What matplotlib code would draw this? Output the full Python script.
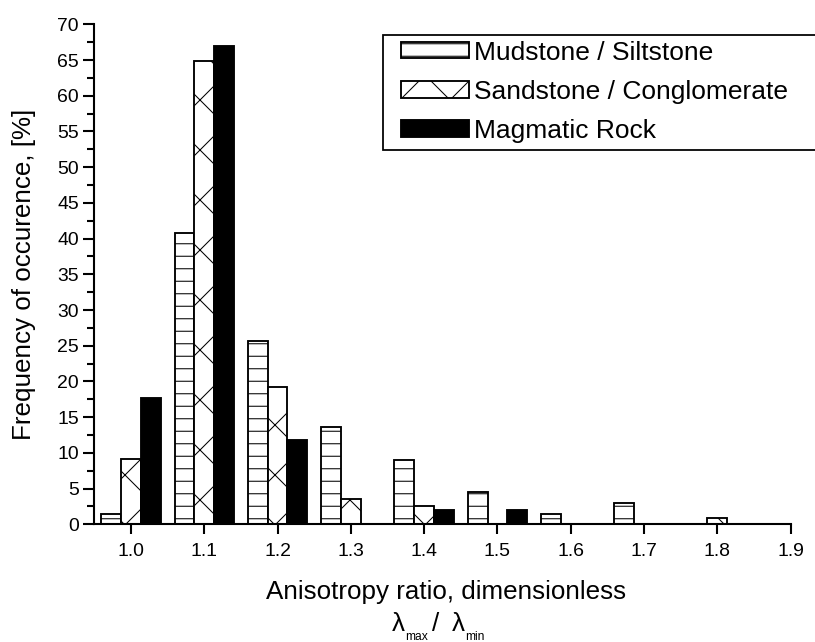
import matplotlib
matplotlib.use('Agg')
import numpy as np
import matplotlib.pyplot as plt
from matplotlib.patches import Rectangle
from matplotlib.ticker import MultipleLocator

# histogram of anisotropy ratio per rock type (percent of samples)
ratio = np.array([1.0, 1.1, 1.2, 1.3, 1.4, 1.5, 1.6, 1.7, 1.8])
mudstone = np.array([1.45, 40.8, 25.7, 13.6, 9.05, 4.5, 1.45, 3.0, 0.0])
sandstone = np.array([9.1, 64.8, 19.2, 3.6, 2.6, 0.0, 0.0, 0.0, 0.85])
magmatic = np.array([17.7, 67.0, 11.8, 0.0, 1.95, 1.95, 0.0, 0.0, 0.0])
labels = ['Mudstone / Siltstone', 'Sandstone / Conglomerate', 'Magmatic Rock']

plt.rcParams['font.family'] = ['Liberation Sans', 'DejaVu Sans']
plt.rcParams['hatch.linewidth'] = 0.5

W, H, DPI = 815, 642, 150
fig = plt.figure(figsize=(W / DPI, H / DPI), dpi=DPI)
top, bottom, left, right = 24.3, 524.3, 94.3, 790.7
ax = fig.add_axes([left / W, 1 - bottom / H, (right - left) / W, (bottom - top) / H])


def px(x, y):
    # pixel position (from top-left) -> figure fraction
    return x / W, 1 - y / H


bw = 0.027
series = [(mudstone, -bw, dict(facecolor='white', hatch='--')),
          (sandstone, 0.0, dict(facecolor='white', hatch='x')),
          (magmatic, bw, dict(facecolor='black'))]
handles = []
for vals, off, style in series:
    keep = vals > 0
    b = ax.bar(ratio[keep] + off, vals[keep], width=bw, edgecolor='black',
               linewidth=0.9, **style)
    handles.append(b)

ax.set_xlim(0.95, 1.9)
ax.set_ylim(0, 70)
ax.set_xticks(np.arange(1.0, 1.91, 0.1))
ax.set_xticklabels(['%.1f' % v for v in np.arange(1.0, 1.91, 0.1)])
ax.yaxis.set_major_locator(MultipleLocator(5))
ax.yaxis.set_minor_locator(MultipleLocator(2.5))

for s in ['top', 'right']:
    ax.spines[s].set_visible(False)
for s in ['left', 'bottom']:
    ax.spines[s].set_linewidth(1.0)
ax.tick_params(which='major', direction='out', width=1.0, labelsize=9.3)
ax.tick_params(axis='x', which='major', length=4.8, pad=4.0)
ax.tick_params(axis='y', which='major', length=5.2, pad=2.2)
ax.tick_params(which='minor', direction='out', length=3.2, width=1.0)

fig.text(*px(24, 274), 'Frequency of occurence, [%]', fontsize=12.5,
         rotation=90, ha='center', va='center')
fig.text(*px(446.5, 592), 'Anisotropy ratio, dimensionless',
         fontsize=12.5, ha='center', va='center')

# lambda_max / lambda_min with low-set subscripts
fig.text(*px(391.5, 631), '\u03bb', fontsize=12.5, ha='left', va='baseline')
fig.text(*px(405, 640), 'max', fontsize=5.8, ha='left', va='baseline')
fig.text(*px(431.5, 631), '/', fontsize=12.5, ha='left', va='baseline')
fig.text(*px(451.5, 631), '\u03bb', fontsize=12.5, ha='left', va='baseline')
fig.text(*px(465, 640), 'min', fontsize=5.8, ha='left', va='baseline')

# legend with a frame running off the right edge
x0, y0 = px(382.7, 150)
fig.patches.append(Rectangle((x0, y0), 0.6, (150 - 35) / H,
                             transform=fig.transFigure, facecolor='white',
                             edgecolor='black', linewidth=0.85, zorder=5))
leg = fig.legend(handles, labels, loc='upper left',
                 bbox_to_anchor=px(398, 38), frameon=False, borderaxespad=0,
                 fontsize=12.7, handlelength=2.6, handleheight=0.57,
                 handletextpad=0.19, labelspacing=0.57, borderpad=0.1)
leg.set_zorder(6)

fig.savefig('out.png', dpi=DPI)
